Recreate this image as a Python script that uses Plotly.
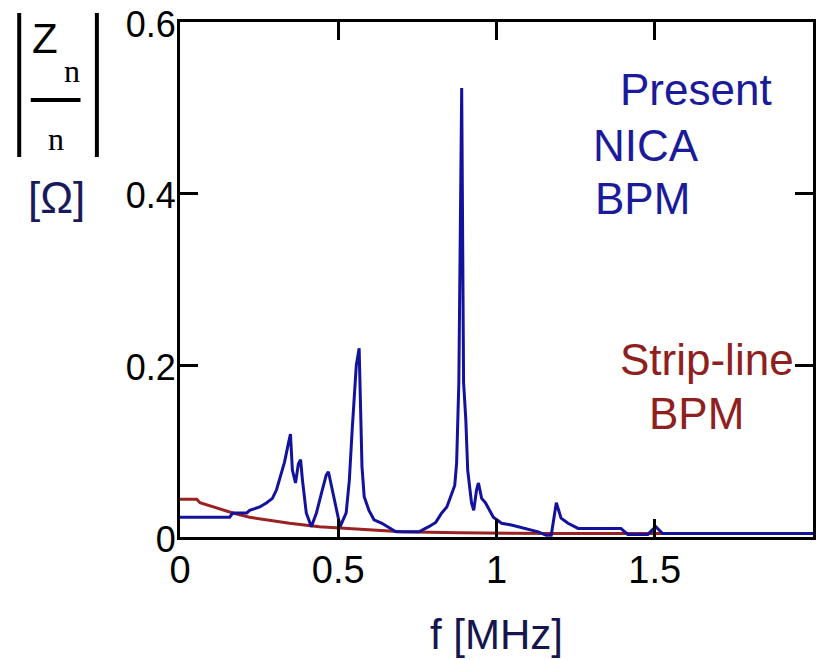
import plotly.graph_objects as go

# Data (f in MHz, |Zn/n| in Ohm)
nica_f = [0.000, 0.157, 0.167, 0.211, 0.220, 0.252, 0.274, 0.292, 0.305, 0.314,
          0.330, 0.343, 0.349, 0.355, 0.365, 0.374, 0.381, 0.387, 0.393, 0.399,
          0.415, 0.431, 0.447, 0.462, 0.469, 0.481, 0.494, 0.506, 0.525, 0.535,
          0.544, 0.557, 0.566, 0.575, 0.582, 0.597, 0.613, 0.638, 0.682, 0.755,
          0.786, 0.808, 0.827, 0.843, 0.855, 0.868, 0.874, 0.881, 0.890, 0.896,
          0.903, 0.909, 0.921, 0.928, 0.937, 0.943, 0.953, 0.965, 0.990, 1.016,
          1.047, 1.091, 1.132, 1.157, 1.173, 1.189, 1.204, 1.226, 1.258, 1.393,
          1.415, 1.478, 1.503, 1.525, 2.000]
nica_z = [0.023, 0.023, 0.028, 0.028, 0.031, 0.035, 0.040, 0.045, 0.055, 0.066,
          0.087, 0.110, 0.120, 0.078, 0.063, 0.085, 0.090, 0.066, 0.043, 0.028,
          0.012, 0.028, 0.051, 0.072, 0.076, 0.055, 0.031, 0.012, 0.028, 0.066,
          0.125, 0.200, 0.220, 0.082, 0.047, 0.031, 0.020, 0.016, 0.006, 0.006,
          0.012, 0.017, 0.028, 0.035, 0.047, 0.060, 0.086, 0.180, 0.523, 0.180,
          0.137, 0.078, 0.040, 0.031, 0.055, 0.063, 0.045, 0.040, 0.023, 0.016,
          0.014, 0.010, 0.006, 0.002, 0.002, 0.040, 0.022, 0.016, 0.010, 0.010,
          0.003, 0.003, 0.012, 0.004, 0.004]

strip_f = [0.000, 0.053, 0.063, 0.104, 0.135, 0.167, 0.220, 0.274, 0.346, 0.440,
           0.525, 0.597, 0.700, 0.880, 1.200, 2.000]
strip_z = [0.044, 0.044, 0.040, 0.035, 0.031, 0.028, 0.023, 0.020, 0.016, 0.012,
           0.010, 0.008, 0.006, 0.005, 0.004, 0.004]

x_tickvals = [0, 0.5, 1, 1.5]
x_ticktext = ["0", "0.5", "1", "1.5"]
y_tickvals = [0, 0.2, 0.4, 0.6]
y_ticktext = ["0", "0.2", "0.4", "0.6"]

BLUE = "#12129c"
RED = "#9a2222"
NAVY_TXT = "#1a1a9a"
RED_TXT = "#8e2020"

fig = go.Figure()
fig.add_trace(go.Scatter(x=strip_f, y=strip_z, mode="lines",
                         line=dict(color=RED, width=3), showlegend=False))
fig.add_trace(go.Scatter(x=nica_f, y=nica_z, mode="lines",
                         line=dict(color=BLUE, width=3), showlegend=False))

font_main = "Arial, Liberation Sans, sans-serif"

fig.update_layout(
    width=816, height=660,
    margin=dict(l=180, r=0, t=22, b=123),
    paper_bgcolor="white", plot_bgcolor="white",
    font=dict(family=font_main, color="black"),
    xaxis=dict(range=[0, 2], tickvals=x_tickvals, ticktext=x_ticktext,
               showgrid=False, zeroline=False, showline=True, linecolor="black",
               linewidth=3, mirror="ticks", ticks="inside", ticklen=18,
               tickwidth=3, tickcolor="black", tickfont=dict(size=38),
               ticklabelstandoff=-3,
               title=dict(text="f [MHz]", font=dict(size=42, color="#16164e"),
                          standoff=31)),
    yaxis=dict(range=[0, 0.6], tickvals=y_tickvals, ticktext=y_ticktext,
               showgrid=False, zeroline=False, showline=True, linecolor="black",
               linewidth=3, mirror="ticks", ticks="inside", ticklen=18,
               tickwidth=3, tickcolor="black", tickfont=dict(size=36),
               ticklabelstandoff=-6, ticklabelshift=2),
)

# Text labels inside plot
ann = [
    dict(text="Present", x=0.8153, y=0.868, color=NAVY_TXT),
    dict(text="NICA", x=0.7358, y=0.761, color=NAVY_TXT),
    dict(text="BPM", x=0.731, y=0.658, color=NAVY_TXT),
    dict(text="Strip-line", x=0.8318, y=0.345, color=RED_TXT),
    dict(text="BPM", x=0.8153, y=0.239, color=RED_TXT),
]
for a in ann:
    fig.add_annotation(text=a["text"], x=a["x"], y=a["y"], xref="paper", yref="paper",
                       xanchor="center", yanchor="middle", showarrow=False,
                       font=dict(size=44, color=a["color"], family=font_main))

# Y-axis label |Zn / n| [Ω]
fig.add_annotation(text="Z", x=-0.2138, y=0.968, xref="paper", yref="paper",
                   xanchor="center", yanchor="middle", showarrow=False,
                   font=dict(size=42, color="black", family=font_main))
fig.add_annotation(text="n", x=-0.1714, y=0.905, xref="paper", yref="paper",
                   xanchor="center", yanchor="middle", showarrow=False,
                   font=dict(size=32, color="black", family="Liberation Serif, serif"))
fig.add_annotation(text="n", x=-0.1965, y=0.773, xref="paper", yref="paper",
                   xanchor="center", yanchor="middle", showarrow=False,
                   font=dict(size=32, color="black", family="Liberation Serif, serif"))
fig.add_annotation(text="[Ω]", x=-0.195, y=0.66, xref="paper", yref="paper",
                   xanchor="center", yanchor="middle", showarrow=False,
                   font=dict(size=44, color="#1a1a5a", family=font_main))
for xv in (-0.254, -0.1313):
    fig.add_shape(type="line", xref="paper", yref="paper", x0=xv, x1=xv,
                  y0=0.738, y1=1.0175, line=dict(color="black", width=4))
fig.add_shape(type="line", xref="paper", yref="paper", x0=-0.2358, x1=-0.1572,
              y0=0.8485, y1=0.8485, line=dict(color="black", width=4))

fig.write_html("out.html",
               config={"displayModeBar": False},
               post_script="document.body.style.margin='0';"
                           "document.body.style.overflow='hidden';")
